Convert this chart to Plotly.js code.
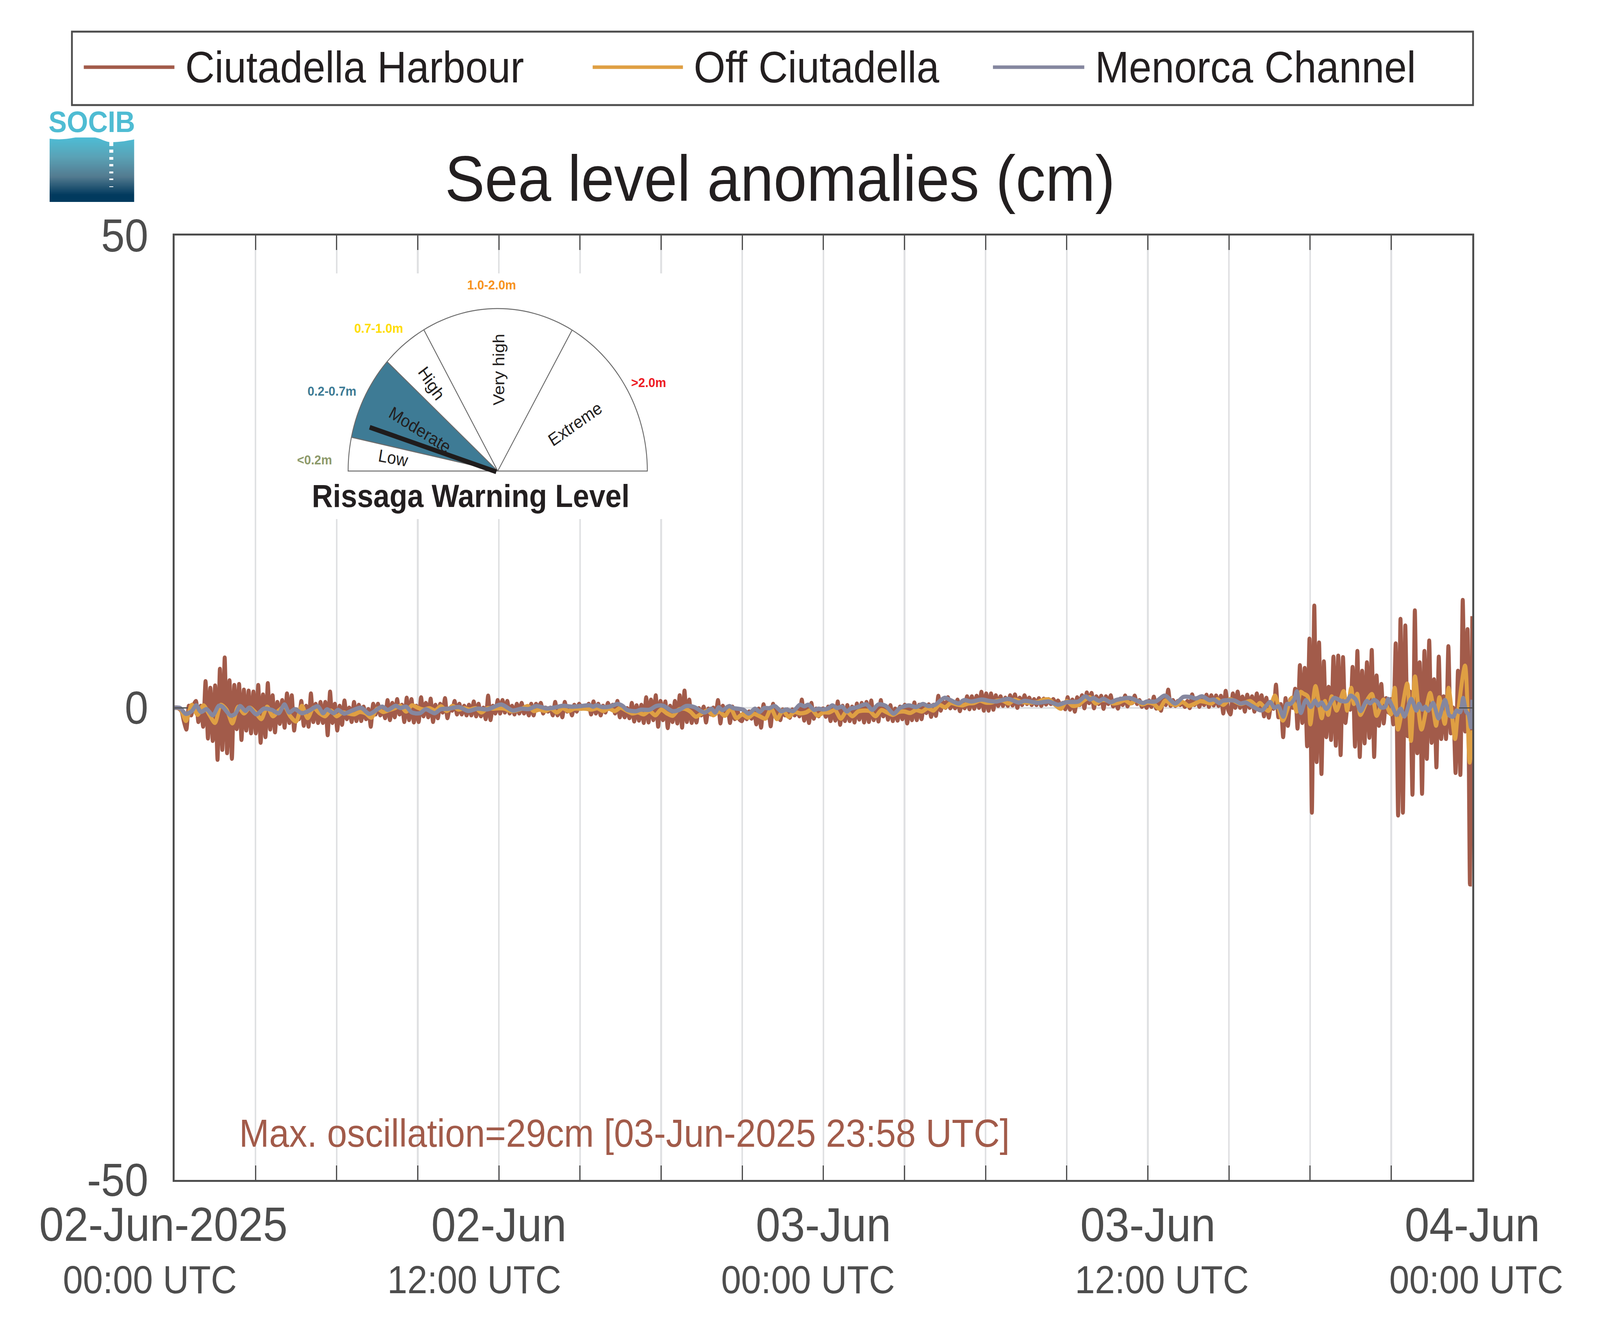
<!DOCTYPE html>
<html><head><meta charset="utf-8">
<script src="https://cdn.plot.ly/plotly-3.0.1.min.js"></script>
<style>html,body{margin:0;padding:0;background:#fff;overflow:hidden}#chart{transform-origin:0 0}</style></head>
<body><div id="chart" style="width:4449px;height:3395px"></div>
<script>
// Sea level anomalies (cm). Hours since 02-Jun-2025 00:00 UTC.
// Ciutadella Harbour: consecutive crests and troughs, 34 per 3-hour block.
const harbour = [
0,0,-.1,-.4,-1.5,-2.3,.2,-.8,.3,.7,-1.5,.2,-2.0,2.8,-3.25,2.1,-3.5,2.35,-5.5,4.1,-4.45,5.3,-4.8,2.9,-5.4,2.4,-2.25,2.5,-3.4,1.9,-2.4,1.8,-2.7,1.7,
-2.7,2.4,-3.7,1.4,-3.1,2.6,-2.3,1.3,-2.6,.6,-1.7,.8,-2.1,1.5,-1.6,1.3,-2.4,-.2,-1.2,.7,-1.9,.2,-2.0,1.5,-1.5,.4,-1.6,.6,-1.6,.6,
-2.9,1.7,-1.6,.4,-2.4,.2,-1.8,.75,-1.2,0,-1.5,.6,-1.4,.3,-1.4,.1,-1.2,-.15,-2.0,.4,-.7,.4,-.8,0,-1.1,.8,-1.3,.5,-1.0,.9,
-.7,.3,-1.5,1.05,-1.3,.9,-1.55,.2,-1.5,1.1,-.9,.5,-1.0,.95,-1.5,.3,-1.1,.4,-.5,1.0,-1.1,-.1,-.3,.7,-.7,.4,-.7,.2,-.8,.3,-.8,.65,-.9,.4,
-.9,0,-1.2,1.27,-1.3,.2,-.6,.8,-.6,.8,-.5,.7,-.6,.2,-.7,.4,-.6,.5,-.6,.1,-.8,.4,-.8,.4,-.1,.5,-.6,0,-.4,0,-.8,.6,-.8,.1,
-1.0,.6,-.4,.1,-.8,.3,-.4,.4,-.1,.2,-.1,.4,-.7,.65,-.6,.4,-.8,.2,-.5,.5,-.1,.3,-.6,.7,-1.0,.15,-1.0,-.05,-1.1,.5,-1.45,.25,-1.35,.3,
-1.6,1.1,-1.55,.85,-1.3,1.3,-2.0,.7,-1.3,.65,-2.15,.2,-1.5,.7,-1.65,1.3,-2.1,1.8,-1.5,.85,-1.6,-.15,-1.55,-.05,-.8,.1,-1.55,-.1,-.7,0,-.6,.8,-1.65,.2,
-.8,.1,-1.6,.1,-1.2,-.1,-1.25,-1.4,-.4,-1.2,-.4,-1.15,-.2,-1.75,-.1,-2.1,.35,-.8,-.4,-1.95,.4,-.7,-.2,-1.3,-.2,-.8,-.2,-1.05,-.2,-.8,-.2,-.9,.85,-1.35,
.1,-1.6,.5,-1.15,-.1,-.9,-.2,-.1,-.95,.1,-1.4,.1,-1.35,.65,-1.8,.2,-1.4,.27,-1.4,.1,-1.55,.43,-1.25,.5,-1.55,.6,-1.5,.75,-1.3,.1,-1.45,.8,
-.9,.17,-1.25,.26,-1.4,-.1,-1.35,.1,-1.2,.3,-1.65,.2,-1.3,.55,-1.3,.3,-1.2,.37,-.55,.35,-.95,.3,-.85,1.25,-.3,.6,0,1.1,-.05,.6,-.05,.85,
-.35,.7,-.05,1.2,-.15,1.2,-.1,1.25,0,1.67,-.3,1.5,-.3,1.5,-.2,1.3,.2,1.2,.2,1.05,.2,1.3,.25,1.4,0,1.05,.3,1.3,.4,1.05,.3,.9,
.3,1.0,.2,.95,.35,.9,.4,.9,.45,.75,.25,.5,-.15,1.1,-.2,.85,-.4,1.1,.3,1.3,-.05,1.6,.5,1.55,-.05,1.2,.4,1.25,-.1,1.2,.4,1.3,
.15,.7,-.08,.95,.3,1.28,.15,.9,.5,1.27,.4,.8,.1,.5,0,.75,.1,1.16,-.08,.7,-.3,1.0,.3,1.9,.2,.8,.2,.7,.3,.5,.1,.7,-.03,1.4,
.3,1.0,.1,.9,.3,1.36,.1,1.3,.25,1.28,.2,1.25,-.6,1.78,-.2,-.7,1.5,0,1.7,0,1.17,-.4,1.36,0,1.2,-.4,1.5,-.1,1.3,-.9,1.04,-1.04,.3,-.1,
2.43,-1.0,.37,-3.1,1.0,-1.9,.9,0,2.0,-2.2,4.5,-1.6,4.2,-4.07,7.3,-11.1,10.8,-5.74,6.9,-7.0,4.9,-3.1,2.2,-3.4,5.4,-4.0,5.5,-5.0,5.35,-1.6,.3,-.2,4.3,-4.1,
6.0,-5.2,3.9,-3.76,4.8,-3.17,6.1,-5.2,3.4,-1.9,2.5,-1.65,1.0,-.5,.9,-1.75,6.8,-11.4,9.4,-11.1,8.7,-3.0,1.7,-9.2,10.3,-4.8,4.8,-9.1,6.0,-5.4,7.1,-3.7,3.0,-6.3,
5.4,-3.3,1.2,-3.3,6.5,-2.7,0,-6.9,3.9,-7.1,11.4,-2.5,8.3,-18.7,9.7
];
// Off Ciutadella: first 39 hours at even spacing, 14 readings per 3-hour block.
const offEarly = [
0,-.1,-1.4,.3,-.75,.25,-.7,-1.6,.3,-.2,-1.65,.1,-.6,0,
-.5,-1.2,.1,-.9,-.3,.1,-.9,-1.45,.2,-1.1,0,-.55,-.9,-.3,
-.9,-.5,-.6,-.7,-.45,-.6,-1.05,-.1,-.45,-.25,-.05,.2,-.4,.25,
0,-.2,-.05,-.3,.15,-.35,.2,-.2,-.05,-.2,-.05,-.5,-.05,-.1,
-.05,-.1,-.35,-.3,-.1,.17,-.35,-.2,-.35,-.1,-.5,-.05,-.35,-.1,
-.1,-.1,-.2,-.05,-.35,-.1,-.35,0,-.3,-.6,-.5,-.7,-.35,-.8,
-.2,-.6,-.85,-.2,-.1,-.4,-.95,-.6,-.3,-.8,-.4,-.85,-.1,-1.1,
-.7,-1.05,-.65,-.9,-1.15,-.1,-1.2,-.3,-.95,-.45,-.6,-.5,-.2,-.85,
-.5,-.5,-.25,-1.15,-.4,-.9,-.4,-.3,-.35,-.9,-.25,-.5,-.75,-.45,
-.4,-.55,-.25,-.4,-.05,-.3,.3,.05,.5,.35,.25,.45,.5,.75,
.55,.55,.75,.75,.45,.85,.65,.55,.55,.6,.85,.85,.3,-.1,
.7,.2,.3,.8,1.1,.45,.8,.75,.45,.55,.8,.45,.8,.35,
.55,.4,-.1,.75,.4,.3,.6,.2,.4,.7,.6,.45,.9,.3
];
// Off Ciutadella: last 9 hours, hours and values read at each crest and trough.
const offLateHours = [39.03,39.43,39.79,40.03,40.14,40.46,40.70,40.99,41.33,41.5,41.65,41.75,41.91,42.01,42.20,42.43,42.55,42.67,42.80,42.98,43.24,43.37,43.52,43.62,43.74,43.86,44.15,44.29,44.46,44.71,44.82,44.99,45.13,45.25,45.59,45.73,45.88,46.12,46.44,46.66,46.78,46.98,47.12,47.36,47.45,47.73,47.90,48];
const offLateValues = [.9,.4,.7,.2,.5,-.33,1.27,-1.35,1.05,-.4,1.67,1.5,1.2,-1.75,2.28,-1.1,.7,-.75,1.2,-.3,1.75,-.3,2.1,.4,1.47,-.75,1.0,1.45,-.85,.85,.3,-.7,2.1,-2.3,2.55,-3.5,3.3,-2.3,1.56,-1.9,1.1,-1.7,2.1,-3.3,-1.0,4.45,-5.8,-2.4];
// Menorca Channel: hours and values read at each crest and trough.
const menorcaHours = [0,.21,.42,.64,.81,.98,1.19,1.42,1.64,1.78,2.08,2.25,2.43,2.63,2.76,3.03,3.31,3.6,3.86,4.07,4.24,4.45,4.71,4.96,5.3,5.5,5.64,5.89,6.05,6.28,6.57,6.9,7.21,7.68,7.89,8.18,8.35,8.57,8.78,9.08,9.29,9.63,9.84,10.14,10.52,10.86,11.2,11.58,12.09,12.51,12.83,
13.11,13.38,13.77,14.04,14.37,14.7,15.04,15.37,15.48,15.61,15.83,16.08,16.39,16.58,16.74,17.07,17.24,17.57,17.82,18.07,18.43,18.67,18.92,19.22,19.61,19.86,20.0,20.13,20.27,20.52,20.66,21.04,21.24,21.47,
21.65,21.81,22.0,22.2,22.44,22.61,22.89,23.13,23.3,23.44,23.66,23.82,23.99,24.18,24.33,24.51,24.69,24.87,25.01,25.23,25.59,25.81,26.03,26.3,26.6,26.83,27.16,27.43,27.68,27.87,28.12,28.48,28.7,29.0,29.2,29.47,29.86,30.12,
30.4,30.84,31.22,31.44,31.94,32.33,32.68,32.99,33.43,33.69,33.87,33.98,34.2,34.36,34.61,34.86,35.33,35.83,35.96,36.29,36.63,37.01,37.31,37.56,37.78,38.0,38.28,38.44,38.64,38.76,
39.2,39.43,39.62,39.84,40.21,40.52,40.68,40.83,41.01,41.14,41.27,41.41,41.51,41.66,41.84,42.03,42.18,42.29,42.43,42.6,42.89,43.16,43.36,43.5,43.69,43.87,44.09,
44.22,44.36,44.49,44.62,44.78,44.89,45.04,45.2,45.35,45.49,45.74,45.93,46.03,46.15,46.26,46.37,46.55,46.75,46.99,47.15,47.3,47.41,47.55,47.66,47.77,47.86,47.95,48];
const menorcaValues = [0,-.03,-.65,-.37,.25,-.45,-.15,-.8,.2,.1,-.83,-.65,.18,-.34,0,-.7,-.1,-.23,-.58,.35,-.5,-.15,-.58,-.34,.15,-.58,-.17,-.58,-.23,-.62,-.3,0,-.65,.11,-.23,.21,-.03,.11,-.5,-.58,-.17,-.58,-.17,-.1,.07,-.34,-.1,-.17,.34,-.3,-.1,
-.14,.18,-.07,.01,.21,.11,.18,.25,.11,.25,.07,.11,.39,.18,-.23,-.37,-.21,-.21,.18,.21,-.37,-.23,.18,.07,-.51,-.1,-.51,.04,-.26,.18,-.03,-.21,-.62,-.1,
-.44,-.03,-.05,.18,-.37,-.2,-.34,.32,.15,.32,-.23,-.1,-.19,-.07,.25,-.03,.11,-.40,-.1,.04,.36,-.23,.34,.21,-.62,-.03,.25,.07,.39,.18,.29,1.05,.8,.45,.8,.66,.87,.73,
.66,.94,.55,.73,.52,.66,.32,.59,.66,1.21,.87,1.03,.73,.94,.59,.84,1.03,.5,.66,.66,1.28,.45,1.14,1.14,.98,1.21,.8,.87,.5,.73,
.76,.45,.55,.2,-.28,.6,0,.16,-.95,.4,.4,.87,1.74,-.55,.8,.08,.74,.24,.55,-.13,1.03,.71,.71,1.27,.87,-.35,.72,
.47,.82,.62,.04,.1,.93,.14,-.76,-.1,-.93,.93,-.3,.41,-.2,.1,-.3,.51,-1.13,.82,-.82,-.93,-.3,-.47,1.03,-.41,-.72,-2.06,.85];
const seriesNames = ['Ciutadella Harbour','Off Ciutadella','Menorca Channel'];
const seriesColors = ['#a25b4a','#df9f43','#85879f'];
const gridHours = [0,3,6,9,12,15,18,21,24,27,30,33,36,39,42,45,48];
const dayLabels = {12:'02-Jun',24:'03-Jun',36:'03-Jun',48:'04-Jun'};

// Helpers to place decorations by page pixel
const L=485,R=4094,T=603,B=3021,W=4449,H=3395;
const px=v=>(v-L)/(R-L), py=v=>(B-v)/(B-T);
const FONT='"Liberation Sans", Arial, sans-serif', INK='#231f20', AX='#4d4d4d';

const harbourX = harbour.map((_,i)=>i*48/(harbour.length-1));
const offX = offEarly.map((_,i)=>i*39/offEarly.length).concat(offLateHours);
const offY = offEarly.concat(offLateValues);

const traces = [
 {x:harbourX,y:harbour,name:seriesNames[0],type:'scatter',mode:'lines',hoverinfo:'skip',
  line:{color:seriesColors[0],width:11,shape:'spline',smoothing:.6,simplify:false}},
 {x:offX,y:offY,name:seriesNames[1],type:'scatter',mode:'lines',hoverinfo:'skip',
  line:{color:seriesColors[1],width:11,shape:'spline',smoothing:.8,simplify:false}},
 {x:menorcaHours,y:menorcaValues,name:seriesNames[2],type:'scatter',mode:'lines',hoverinfo:'skip',
  line:{color:seriesColors[2],width:11,shape:'spline',smoothing:.8,simplify:false}}
];

const shapes=[], annotations=[];
const rect=(x0,y0,x1,y1,fill,line)=>shapes.push({type:'rect',xref:'paper',yref:'paper',layer:'above',x0:px(x0),x1:px(x1),y0:py(y0),y1:py(y1),fillcolor:fill,line:line||{width:0}});
const pathS=(d,fill,line)=>shapes.push({type:'path',xref:'paper',yref:'paper',layer:'above',path:d,fillcolor:fill||'rgba(0,0,0,0)',line:line||{width:0}});
const note=(text,x,y,size,color,extra)=>annotations.push(Object.assign({text,xref:'paper',yref:'paper',x:px(x),y:py(y),xanchor:'center',yanchor:'middle',showarrow:false,font:{family:FONT,size,color}},extra||{}));

// Legend box
rect(200,81,4096,269,'rgba(0,0,0,0)',{color:AX,width:5});
[[233,485,513],[1648,1899,1927],[2761,3015,3043]].forEach((e,i)=>{
  pathS('M'+px(e[0])+','+py(172)+'L'+px(e[1])+','+py(172),null,{color:seriesColors[i],width:9});
  note(seriesNames[i],e[2],172,113,INK,{xanchor:'left'});
});
// Gauge inset
rect(815,700,1865,1329,'#ffffff');
const cx=1384,cy=1206,rad=416;
const pt=(deg)=>{const a=deg*Math.PI/180;return [cx-rad*Math.cos(a),cy-rad*Math.sin(a)];};
const P=(p)=>px(p[0])+','+py(p[1]);
const arc=(a0,a1)=>{let s='';const n=Math.ceil(Math.abs(a1-a0)/2);for(let i=0;i<=n;i++){s+=(i?'L':'')+P(pt(a0+(a1-a0)*i/n));}return s;};
pathS('M'+arc(12,42.3)+'L'+P([cx,cy])+'Z','#3e7b95');
const thin={color:'#6b6b6b',width:2.5};
pathS('M'+arc(0,180)+'Z',null,thin);
for(const a of [12,42.3,60.4,119.8]) pathS('M'+P([cx,cy])+'L'+P(pt(a)),null,thin);
pathS('M'+P([1380,1208])+'L'+P([1028,1094]),null,{color:'#1f1c1c',width:12});
note('Low',1093,1172,45,INK,{textangle:10});
note('Moderate',1168,1100,45,INK,{textangle:30});
note('High',1200,981,45,INK,{textangle:55});
note('Very high',1386,947,44,INK,{textangle:-90});
note('Extreme',1599,1085,45,INK,{textangle:-33});
note('<b>Rissaga Warning Level</b>',1309,1270,81,INK);
note('<b>1.0-2.0m</b>',1367,729,34,'#f7931e');
note('<b>0.7-1.0m</b>',1053,840,34,'#ffdd00');
note('<b>0.2-0.7m</b>',923,1001,34,'#3e7b95');
note('<b>&lt;0.2m</b>',874,1177,34,'#8d9a6b');
note('<b>&gt;2.0m</b>',1803,979,34,'#ed1c24');

// SOCIB logo
note('<b>SOCIB</b>',255,312,76,'#4fbcd3');
const stops=[[355,[79,186,210]],[400,[90,162,182]],[450,[83,123,144]],[497,[1,58,94]],[517,[1,58,94]]];
const lerp=(y)=>{for(let i=1;i<stops.length;i++){if(y<=stops[i][0]){const t=(y-stops[i-1][0])/(stops[i][0]-stops[i-1][0]);const c=stops[i-1][1].map((v,k)=>Math.round(v+(stops[i][1][k]-v)*t));return `rgb(${c})`;}}return 'rgb(1,58,94)';};
for(let y=352;y<517;y+=4) rect(138,y,373,Math.min(y+4.5,517),lerp(y));
pathS('M'+P([136,350])+'L'+P([138,355])+'C'+P([190,362])+' '+P([220,345])+' '+P([250,350])+'C'+P([280,352])+' '+P([290,364])+' '+P([310,364])+'C'+P([335,364])+' '+P([355,360])+' '+P([373,357])+'L'+P([375,350])+'Z','#ffffff');
for(const [a,b] of [[360,374],[383,391],[402,409],[420,426],[439,444],[457,461],[477,479]]) rect(304,a,315,b,'#ffffff');

// Axis labels that sit away from their ticks
note('02-Jun-2025',454,3134,123,AX);
[['00:00 UTC',417],['12:00 UTC',1319],['00:00 UTC',2247],['12:00 UTC',3231],['00:00 UTC',4105]].forEach(r=>note(r[0],r[1],3276,100,AX));
note('Max. oscillation=29cm [03-Jun-2025 23:58 UTC]',1736,2901,100,'#a25b4a');

const layout={
 width:W,height:H,autosize:false,paper_bgcolor:'#fff',plot_bgcolor:'#fff',
 margin:{l:L,r:W-R,t:T,b:H-B,pad:0},
 font:{family:FONT,color:AX},showlegend:false,
 title:{text:'Sea level anomalies (cm)',font:{family:FONT,size:166,color:INK},x:2169/W,xanchor:'center',y:1-456/H,yanchor:'middle',yref:'container'},
 xaxis:{type:'linear',range:[0,48],tickmode:'array',tickvals:gridHours,ticktext:gridHours.map(h=>dayLabels[h]||''),
  ticks:'inside',ticklen:37,tickwidth:3,tickcolor:AX,showline:true,linewidth:5,linecolor:AX,mirror:'ticks',
  showgrid:true,gridcolor:'#e0e1e3',gridwidth:5,zeroline:false,tickangle:0,tickfont:{family:FONT,size:123,color:AX},ticklabelstandoff:4},
 yaxis:{range:[-50,50],tickmode:'array',tickvals:[-50,0,50],ticktext:['-50','0','50'],
  ticks:'inside',ticklen:37,tickwidth:3,tickcolor:AX,showline:true,linewidth:5,linecolor:AX,mirror:'ticks',
  showgrid:true,gridcolor:'#e0e1e3',gridwidth:5,zeroline:false,tickfont:{family:FONT,size:118,color:AX},ticklabelstandoff:44},
 shapes,annotations
};
// The browser may open narrower than the page asks for: fit the finished drawing to the window.
Plotly.newPlot('chart',traces,layout,{staticPlot:true,displayModeBar:false}).then(()=>{
  const sx=Math.min(1,window.innerWidth/W), sy=Math.min(1,window.innerHeight/H);
  if(sx<1||sy<1) document.getElementById('chart').style.transform=`scale(${sx},${sy})`;
});
</script></body></html>
